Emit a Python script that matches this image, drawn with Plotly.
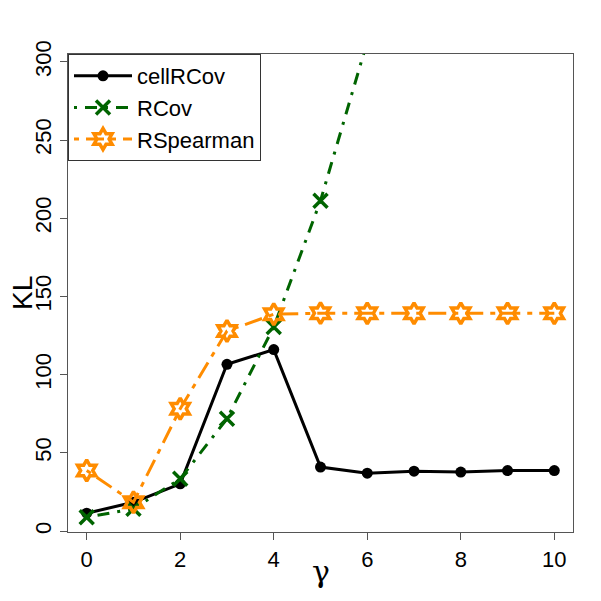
import plotly.graph_objects as go

gamma = [0, 1, 2, 3, 4, 5, 6, 7, 8, 9, 10]

# KL values (RCov leaves the panel after gamma = 5)
cellrcov = [11.4, 18.4, 30.2, 106.6, 116.0, 40.9, 37.0, 38.3, 37.7, 38.7, 38.7]
rcov = [8.8, 14.2, 33.4, 71.8, 130.5, 211.2, 313.0, 410.0, 520.0, 640.0, 760.0]
rspearman = [38.7, 18.4, 78.2, 127.9, 138.6, 139.3, 139.2, 139.2, 139.2, 139.2, 139.2]

x_ticks = [0, 2, 4, 6, 8, 10]
y_ticks = [0, 50, 100, 150, 200, 250, 300]

FONT = "Liberation Sans, Arial, Helvetica, sans-serif"

fig = go.Figure()

fig.add_trace(go.Scatter(
    x=gamma, y=cellrcov, name="cellRCov", mode="lines+markers",
    line=dict(color="black", width=3),
    marker=dict(symbol="circle", size=11, color="black"),
))
fig.add_trace(go.Scatter(
    x=gamma, y=rcov, name="RCov", mode="lines+markers",
    line=dict(color="#006400", width=3, dash="3px,8px,12px,8px"),
    marker=dict(symbol="x-thin-open", size=14, color="#006400",
                line=dict(color="#006400", width=3.5)),
))
fig.add_trace(go.Scatter(
    x=gamma, y=rspearman, name="RSpearman", mode="lines+markers",
    line=dict(color="#FF8C00", width=3, dash="5px,7px,18px,7px"),
    marker=dict(symbol="hexagram-open", size=16, color="#FF8C00",
                line=dict(color="#FF8C00", width=3.5)),
))

# the page body adds an 8px offset, so the figure is 8px smaller
fig.update_layout(
    width=593, height=593,
    margin=dict(l=60, r=28, t=46, b=69, autoexpand=False),
    paper_bgcolor="white", plot_bgcolor="white",
    font=dict(family=FONT, size=21, color="black"),
    showlegend=True,
    legend=dict(
        x=0, y=1, xanchor="left", yanchor="top",
        bgcolor="white", bordercolor="#333333", borderwidth=1,
        font=dict(size=22), tracegroupgap=0,
        itemwidth=58,
    ),
)

# axis titles as annotations so they sit where R put them
fig.add_annotation(
    text="KL", xref="paper", yref="paper", x=0, y=0.5,
    xanchor="center", yanchor="middle", xshift=-46, textangle=-90,
    showarrow=False, font=dict(size=28),
)
fig.add_annotation(
    text="γ", xref="paper", yref="paper", x=0.5, y=0,
    xanchor="center", yanchor="middle", yshift=-39,
    showarrow=False, font=dict(size=30, family="DejaVu Serif"),
)

fig.update_xaxes(
    range=[-0.4, 10.4], tickvals=x_ticks, ticks="outside", ticklen=7,
    tickfont=dict(size=22), automargin=False,
    tickcolor="#555555", showline=True, linecolor="#555555", linewidth=1.3,
    mirror=True, showgrid=False, zeroline=False,
)
fig.update_yaxes(
    range=[-0.6, 305], tickvals=y_ticks, ticks="outside", ticklen=7,
    tickangle=-90, tickfont=dict(size=22), automargin=False,
    tickcolor="#555555", showline=True, linecolor="#555555", linewidth=1.3,
    mirror=True, showgrid=False, zeroline=False,
)

fig.write_html("out.html")
